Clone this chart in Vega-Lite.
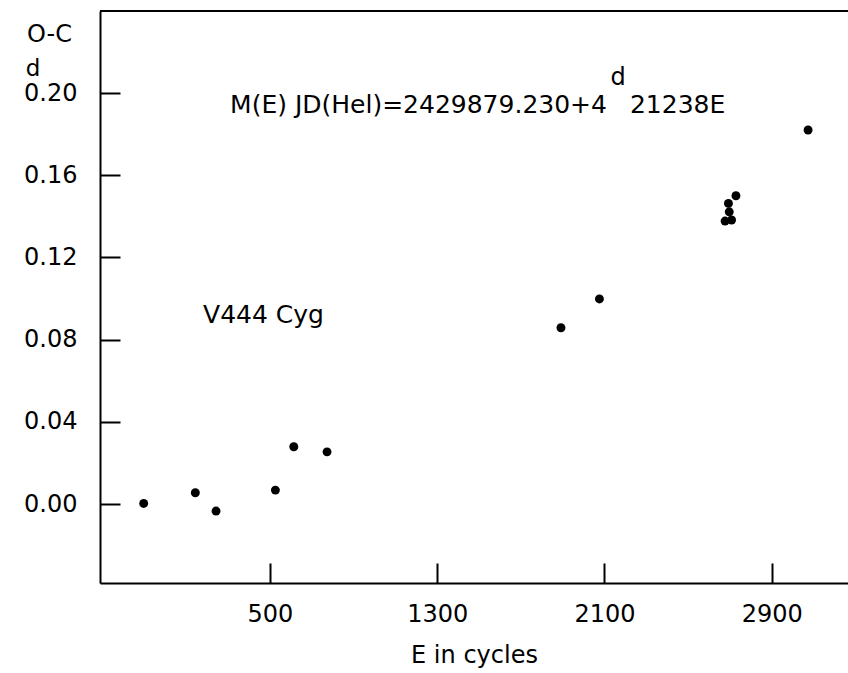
{
  "$schema": "https://vega.github.io/schema/vega-lite/v6.json",
  "width": 748,
  "height": 572,
  "autosize": {"type": "none"},
  "padding": {"left": 100, "top": 11, "right": 0, "bottom": 90},
  "background": "white",
  "config": {
    "view": {"stroke": null},
    "font": "DejaVu Sans",
    "axis": {
      "domainColor": "black",
      "domainWidth": 2,
      "tickColor": "black",
      "tickWidth": 2,
      "labelFont": "DejaVu Sans",
      "labelFontSize": 24,
      "labelColor": "black",
      "grid": false,
      "titleFont": "DejaVu Sans",
      "titleFontSize": 24,
      "titleFontWeight": "normal",
      "titleColor": "black"
    }
  },
  "resolve": {"axis": {"x": "independent", "y": "independent"}},
  "data": {
    "values": [
      {"E": -104, "OC": 0.0003},
      {"E": 143, "OC": 0.0055},
      {"E": 242, "OC": -0.0034},
      {"E": 526, "OC": 0.0068},
      {"E": 614, "OC": 0.0279},
      {"E": 773, "OC": 0.0254},
      {"E": 1892, "OC": 0.0858},
      {"E": 2076, "OC": 0.0998},
      {"E": 2729, "OC": 0.1500},
      {"E": 2693, "OC": 0.1463},
      {"E": 2697, "OC": 0.1422},
      {"E": 2677, "OC": 0.1377},
      {"E": 2708, "OC": 0.1382},
      {"E": 3074, "OC": 0.1820}
    ]
  },
  "layer": [
    {
      "mark": {"type": "point", "filled": true, "color": "black", "size": 80, "opacity": 1},
      "encoding": {
        "x": {
          "field": "E", "type": "quantitative",
          "scale": {"domain": [-313, 3265], "nice": false, "zero": false},
          "axis": {
            "orient": "bottom",
            "values": [500, 1300, 2100, 2900],
            "format": "d",
            "ticks": false,
            "labelPadding": 19,
            "title": "E in cycles",
            "titleBaseline": "middle",
            "titleY": 72
          }
        },
        "y": {
          "field": "OC", "type": "quantitative",
          "scale": {"domain": [-0.0384, 0.2399], "nice": false, "zero": false},
          "axis": {
            "orient": "left",
            "values": [0, 0.04, 0.08, 0.12, 0.16, 0.2],
            "format": ".2f",
            "ticks": false,
            "labelPadding": 23,
            "title": "O-C",
            "titleAngle": 0,
            "titleAlign": "center",
            "titleBaseline": "middle",
            "titleX": -51,
            "titleY": 23
          }
        }
      }
    },
    {
      "data": {"values": [{}]},
      "mark": {"type": "rule", "color": "black", "strokeWidth": 2},
      "encoding": {"y": {"datum": 0.2399, "axis": null}}
    },
    {
      "data": {"values": [{}]},
      "mark": {"type": "text", "fontSize": 23, "font": "DejaVu Sans", "align": "center", "baseline": "middle", "color": "black"},
      "encoding": {
        "x": {
          "datum": -633,
          "axis": {
            "orient": "bottom", "offset": -20, "tickSize": 20, "domain": false,
            "labels": false, "title": null, "values": [500, 1300, 2100, 2900]
          }
        },
        "y": {
          "datum": 0.2117,
          "axis": {
            "orient": "left", "offset": -20, "tickSize": 20, "domain": false,
            "labels": false, "title": null, "values": [0, 0.04, 0.08, 0.12, 0.16, 0.2]
          }
        },
        "text": {"value": "d"}
      }
    },
    {
      "data": {"values": [{}]},
      "mark": {"type": "text", "fontSize": 25, "font": "DejaVu Sans", "align": "right", "baseline": "middle", "color": "black"},
      "encoding": {"x": {"datum": 2112, "axis": null}, "y": {"datum": 0.1944, "axis": null}, "text": {"value": "M(E) JD(Hel)=2429879.230+4"}}
    },
    {
      "data": {"values": [{}]},
      "mark": {"type": "text", "fontSize": 25, "font": "DejaVu Sans", "align": "left", "baseline": "middle", "color": "black"},
      "encoding": {"x": {"datum": 2222, "axis": null}, "y": {"datum": 0.1944, "axis": null}, "text": {"value": "21238E"}}
    },
    {
      "data": {"values": [{}]},
      "mark": {"type": "text", "fontSize": 24, "font": "DejaVu Sans", "align": "center", "baseline": "middle", "color": "black"},
      "encoding": {"x": {"datum": 2165, "axis": null}, "y": {"datum": 0.2073, "axis": null}, "text": {"value": "d"}}
    },
    {
      "data": {"values": [{}]},
      "mark": {"type": "text", "fontSize": 25, "font": "DejaVu Sans", "align": "left", "baseline": "middle", "color": "black"},
      "encoding": {"x": {"datum": 180, "axis": null}, "y": {"datum": 0.092, "axis": null}, "text": {"value": "V444 Cyg"}}
    }
  ]
}
